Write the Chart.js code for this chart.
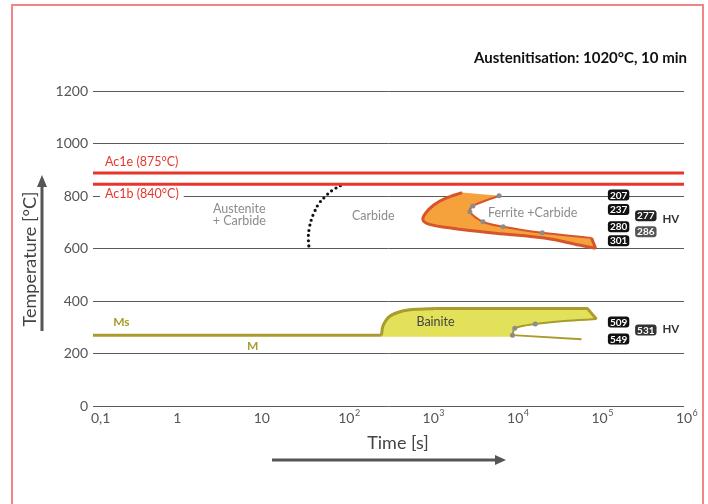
<!DOCTYPE html>
<html>
<head>
<meta charset="utf-8">
<title>TTT diagram</title>
<script src="https://cdn.jsdelivr.net/npm/chart.js@4.4.1/dist/chart.umd.min.js"></script>
<style>
  html, body { margin: 0; padding: 0; background: #fff; }
  #wrap { position: relative; width: 708px; height: 504px; overflow: hidden; }
  #frame { position: absolute; left: 11px; top: 4px; width: 693px; height: 530px; border: 2px solid #f28686; box-sizing: border-box; }
  canvas { position: absolute; left: 0; top: 0; }
</style>
</head>
<body>
<div id="wrap">
  <div id="frame"></div>
  <canvas id="chart" width="708" height="504"></canvas>
</div>
<script>
// === Data ===

const xTickValues = [0.1, 1, 10, 100, 1000, 1e4, 1e5, 1e6];
const xTickBase = ['0,1', '1', '10', '10', '10', '10', '10', '10'];
const xTickExp = ['', '', '', '2', '3', '4', '5', '6'];

// Ac1e / Ac1b lines
const acTime = [0.1, 1e6];
const ac1eTemp = [888, 888];
const ac1bTemp = [845, 845];

// Martensite start
const msTime = [0.1, 262];
const msTemp = [270, 270];

// carbide dissolution (dotted)
const carbideTime = [36, 35.5, 36.5, 38.5, 42, 47.5, 56, 67, 88];
const carbideTemp = [610, 645, 678, 709, 740, 772, 797, 820, 842];

// ferrite + carbide band
const ferStartTime = [2360, 1496, 1087, 865, 809, 946, 1795, 5890, 23200, 57500, 89600];
const ferStartTemp = [813, 791, 766, 734, 709, 693, 677, 658, 639, 613, 601];
const ferEndTime = [6450, 3160, 2910, 4160, 7200, 20950, 80400];
const ferEndTemp = [801, 762, 740, 702, 683, 660, 640];

// bainite nose: curved rise, then flat top and right edge
const baiRiseTime = [261, 272, 325, 464, 719, 1148];
const baiRiseTemp = [269, 305, 341, 362, 369, 371];
const baiTopTime = [1148, 71900, 92000];
const baiTopTemp = [371, 371, 331];
const baiEndTime = [92000, 38300, 17300, 9900, 9300];
const baiEndTemp = [331, 324, 312, 296, 270];
const baiBaseTime = [9300, 61100];
const baiBaseTemp = [270, 254];
const baiFloorTemp = 264;

// hardness badges
const hvFerrite = ['207', '237', '280', '301', '277', '286'];
const hvFerriteTime = [168000, 168000, 168000, 168000, 353000, 353000];
const hvFerriteTemp = [804, 749, 683, 630, 725, 664];
const hvBainite = ['509', '549', '531'];
const hvBainiteTime = [168000, 168000, 353000];
const hvBainiteTemp = [320, 255, 290];

const FONT = 'Lato, "Open Sans", sans-serif';
const RED = '#e8352b';
const OLIVE = '#a89c2c';
const ORANGE_LINE = '#d7552a';

const pts = (ts, vs) => ts.map((t, i) => ({ x: t, y: vs[i] }));

// === Annotations: axis labels, texts, badges ===

function drawBadge(ctx, str, px, py, color) {
    ctx.font = `bold 10px ${FONT}`;
    const w = ctx.measureText(str).width + 4;
    const h = 11;
    ctx.fillStyle = color;
    ctx.beginPath();
    ctx.roundRect(px - w / 2, py - h / 2, w, h, 3);
    ctx.fill();
    ctx.fillStyle = '#fff';
    ctx.textAlign = 'center';
    ctx.fillText(str, px, py + 0.5);
}

const annotate = {
    id: 'annotate',
    afterDraw(chart) {
        const { ctx, chartArea: area } = chart;
        const X = t => chart.scales.x.getPixelForValue(t);
        const Y = v => chart.scales.y.getPixelForValue(v);

        ctx.save();
        ctx.textBaseline = 'middle';

        // x tick labels with superscripts
        xTickValues.forEach((v, i) => {
            const px = X(v);
            const py = area.bottom + 12;
            ctx.font = `14px ${FONT}`;
            ctx.fillStyle = '#555';
            if (i === 0) {
                ctx.textAlign = 'left';
                ctx.fillText(xTickBase[i], px - 2, py);
                return;
            }
            ctx.textAlign = 'center';
            ctx.fillText(xTickBase[i], px, py);
            if (xTickExp[i]) {
                const w = ctx.measureText(xTickBase[i]).width;
                ctx.font = `9px ${FONT}`;
                ctx.textAlign = 'left';
                ctx.fillText(xTickExp[i], px + w / 2 + 0.5, py - 5);
            }
        });

        // axis titles + arrows
        ctx.fillStyle = '#444';
        ctx.strokeStyle = '#555';
        ctx.font = `18px ${FONT}`;
        ctx.textAlign = 'center';
        ctx.fillText('Time [s]', 398, 443);

        ctx.lineWidth = 3;
        ctx.beginPath();
        ctx.moveTo(272, 460);
        ctx.lineTo(497, 460);
        ctx.stroke();
        ctx.fillStyle = '#555';
        ctx.beginPath();
        ctx.moveTo(506, 460);
        ctx.lineTo(495, 455);
        ctx.lineTo(495, 465);
        ctx.closePath();
        ctx.fill();

        ctx.save();
        ctx.translate(30, 259);
        ctx.rotate(-Math.PI / 2);
        ctx.fillStyle = '#444';
        ctx.font = `18px ${FONT}`;
        ctx.fillText('Temperature [°C]', 0, 0);
        ctx.restore();

        ctx.beginPath();
        ctx.moveTo(42, 331);
        ctx.lineTo(42, 185);
        ctx.stroke();
        ctx.beginPath();
        ctx.moveTo(42, 175);
        ctx.lineTo(37, 187);
        ctx.lineTo(47, 187);
        ctx.closePath();
        ctx.fill();

        // heading
        ctx.fillStyle = '#111';
        ctx.font = `bold 15px ${FONT}`;
        ctx.textAlign = 'right';
        ctx.fillText('Austenitisation: 1020°C, 10 min', 687, 58);

        // Ac labels
        ctx.font = `12.5px ${FONT}`;
        ctx.textAlign = 'left';
        ctx.fillStyle = RED;
        ctx.fillText('Ac1e (875°C)', X(0.139), Y(929));
        const ac1bText = 'Ac1b (840°C)';
        const bw = ctx.measureText(ac1bText).width;
        ctx.fillStyle = '#fff';
        ctx.fillRect(X(0.139) - 5, Y(808) - 6, bw + 10, 12);
        ctx.fillStyle = RED;
        ctx.fillText(ac1bText, X(0.139), Y(808));

        // phase labels
        ctx.font = `12.5px ${FONT}`;
        ctx.textAlign = 'center';
        ctx.fillStyle = '#8c8c8c';
        ctx.fillText('Austenite', X(5.4), Y(750));
        ctx.fillText('+ Carbide', X(5.4), Y(706));
        ctx.fillText('Carbide', X(209), Y(724));
        ctx.fillText('Ferrite +Carbide', X(16100), Y(734));
        ctx.fillStyle = '#444';
        ctx.fillText('Bainite', X(1140), Y(321));
        ctx.fillStyle = OLIVE;
        ctx.font = `bold 12px ${FONT}`;
        ctx.fillText('Ms', X(0.217), Y(319));
        ctx.fillText('M', X(7.8), Y(229));

        // hardness badges
        hvFerrite.forEach((s, i) => {
            const col = i < 4 ? '#111' : (i === 4 ? '#222' : '#555');
            drawBadge(ctx, s, X(hvFerriteTime[i]), Y(hvFerriteTemp[i]), col);
        });
        hvBainite.forEach((s, i) => {
            const col = i < 2 ? '#111' : '#333';
            drawBadge(ctx, s, X(hvBainiteTime[i]), Y(hvBainiteTemp[i]), col);
        });
        ctx.fillStyle = '#333';
        ctx.font = `bold 11.5px ${FONT}`;
        ctx.textAlign = 'center';
        ctx.fillText('HV', X(700000), Y(712));
        ctx.fillText('HV', X(700000), Y(292));

        ctx.restore();
    }
};

// === Datasets ===

const ferriteShape = pts(ferStartTime, ferStartTemp).concat(pts(ferEndTime, ferEndTemp).reverse());
const bainiteShape = pts(baiRiseTime, baiRiseTemp)
    .concat(pts(baiTopTime, baiTopTemp).slice(1))
    .concat(pts(baiEndTime, baiEndTemp).slice(1))
    .concat([
        { x: baiEndTime[baiEndTime.length - 1], y: baiFloorTemp },
        { x: baiRiseTime[0], y: baiFloorTemp }
    ]);

const datasets = [
    { data: ferriteShape, fill: 'shape', backgroundColor: '#f6a23c', borderWidth: 0, tension: 0, order: 10 },
    { data: bainiteShape, fill: 'shape', backgroundColor: '#e3e05a', borderWidth: 0, tension: 0, order: 10 },
    { data: pts(acTime, ac1eTemp), borderColor: RED, borderWidth: 3, order: 5 },
    { data: pts(acTime, ac1bTemp), borderColor: RED, borderWidth: 3, order: 5 },
    { data: pts(msTime, msTemp), borderColor: OLIVE, borderWidth: 3, order: 5 },
    {
        data: pts(carbideTime, carbideTemp), borderColor: '#111', borderWidth: 3.2,
        borderDash: [0, 5.2], borderCapStyle: 'round', tension: 0.4, order: 5
    },
    { data: pts(ferStartTime, ferStartTemp), borderColor: ORANGE_LINE, borderWidth: 3, tension: 0.35, order: 4 },
    {
        data: [
            { x: ferStartTime[ferStartTime.length - 1], y: ferStartTemp[ferStartTemp.length - 1] },
            { x: ferEndTime[ferEndTime.length - 1], y: ferEndTemp[ferEndTemp.length - 1] }
        ],
        borderColor: ORANGE_LINE, borderWidth: 3, order: 4
    },
    { data: pts(ferEndTime, ferEndTemp), borderColor: ORANGE_LINE, borderWidth: 2, tension: 0.35, order: 4 },
    {
        data: pts(ferEndTime, ferEndTemp).slice(0, 6), showLine: false,
        pointRadius: 2.5, pointBackgroundColor: '#8c8c8c', pointBorderWidth: 0, order: 1
    },
    { data: pts(baiRiseTime, baiRiseTemp), borderColor: OLIVE, borderWidth: 3, tension: 0.3, order: 4 },
    { data: pts(baiTopTime, baiTopTemp), borderColor: OLIVE, borderWidth: 3, tension: 0, borderJoinStyle: 'round', order: 4 },
    { data: pts(baiEndTime, baiEndTemp), borderColor: OLIVE, borderWidth: 2, tension: 0.3, order: 4 },
    { data: pts(baiBaseTime, baiBaseTemp), borderColor: OLIVE, borderWidth: 2, order: 4 },
    {
        data: pts(baiEndTime, baiEndTemp).slice(2), showLine: false,
        pointRadius: 2.5, pointBackgroundColor: '#8c8c8c', pointBorderWidth: 0, order: 1
    }
];

// === Chart ===

new Chart(document.getElementById('chart').getContext('2d'), {
    type: 'line',
    data: { datasets },
    options: {
        responsive: false,
        animation: false,
        devicePixelRatio: 1,
        events: [],
        layout: { padding: { left: 0, right: 24, top: 91, bottom: 98 } },
        elements: { point: { radius: 0 }, line: { fill: false } },
        plugins: {
            legend: { display: false },
            tooltip: { enabled: false }
        },
        scales: {
            x: {
                type: 'logarithmic',
                min: 0.1,
                max: 1e6,
                grid: { display: false },
                border: { display: false },
                ticks: { display: false },
                afterFit(scale) { scale.height = 0; }
            },
            y: {
                min: 0,
                max: 1200,
                ticks: {
                    stepSize: 200,
                    color: '#555',
                    padding: 5,
                    font: { family: FONT, size: 14 },
                    callback: v => String(v)
                },
                grid: { color: '#5a5a5a', lineWidth: 1, drawTicks: false },
                border: { display: false },
                afterFit(scale) { scale.width = 93; }
            }
        }
    },
    plugins: [annotate]
});
</script>
</body>
</html>
